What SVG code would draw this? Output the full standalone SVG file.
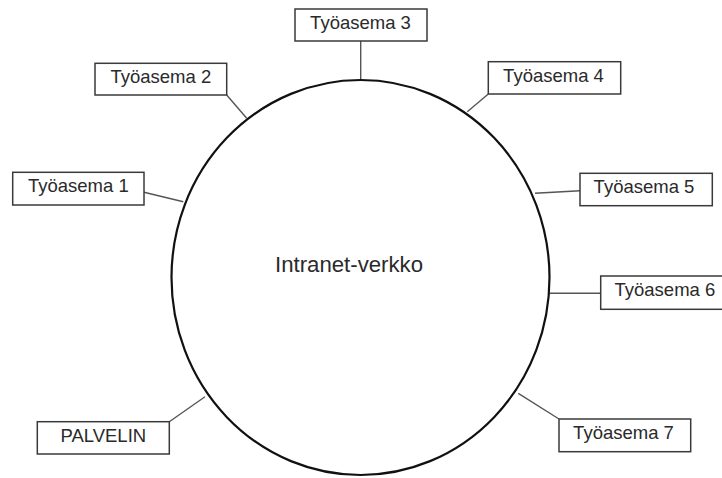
<svg xmlns="http://www.w3.org/2000/svg" width="722" height="478" viewBox="0 0 722 478">
<style>
.box{fill:#fff;stroke:#3a3a3a;stroke-width:1.5}
.lbl{font-family:"Liberation Sans",Arial,sans-serif;font-size:18.5px;fill:#2a2a2a}
.conn{stroke:#555;stroke-width:1.4;fill:none}
</style>
<rect width="722" height="478" fill="#fff"/>
<g id="connectors">
<line class="conn" x1="144" y1="192.3" x2="183.3" y2="201.7"/>
<line class="conn" x1="226.7" y1="95" x2="246.7" y2="118.3"/>
<line class="conn" x1="360.7" y1="41" x2="360.7" y2="80"/>
<line class="conn" x1="488.3" y1="94" x2="467.3" y2="111.7"/>
<line class="conn" x1="580" y1="190.7" x2="535" y2="193.3"/>
<line class="conn" x1="600.7" y1="293.3" x2="549.5" y2="293.3"/>
<line class="conn" x1="559" y1="419" x2="518.3" y2="393.3"/>
<line class="conn" x1="169.3" y1="421.7" x2="205" y2="396.7"/>
</g>
<g id="intranet">
<ellipse cx="360.5" cy="277.5" rx="189" ry="197.5" fill="none" stroke="#111" stroke-width="2.2"/>
<text x="275" y="272" font-family="Liberation Sans,Arial,sans-serif" font-size="22" fill="#2a2a2a" textLength="148" lengthAdjust="spacingAndGlyphs">Intranet-verkko</text>
</g>
<g id="ty1"><rect class="box" x="12.7" y="172.3" width="131.3" height="32.7"/><text class="lbl" x="78.3" y="192.3" text-anchor="middle">Työasema 1</text></g>
<g id="ty2"><rect class="box" x="95" y="63.3" width="131.7" height="31.7"/><text class="lbl" x="160.8" y="83.3" text-anchor="middle">Työasema 2</text></g>
<g id="ty3"><rect class="box" x="295" y="9" width="132" height="32"/><text class="lbl" x="360.5" y="29" text-anchor="middle">Työasema 3</text></g>
<g id="ty4"><rect class="box" x="488.3" y="61.7" width="132.4" height="32.3"/><text class="lbl" x="553.5" y="81.7" text-anchor="middle">Työasema 4</text></g>
<g id="ty5"><rect class="box" x="580" y="173.3" width="132.3" height="32.4"/><text class="lbl" x="644" y="193.3" text-anchor="middle">Työasema 5</text></g>
<g id="ty6"><rect class="box" x="600.7" y="276" width="132.3" height="33.3"/><text class="lbl" x="614.5" y="296">Työasema 6</text></g>
<g id="ty7"><rect class="box" x="559" y="419" width="131.7" height="32.7"/><text class="lbl" x="623.5" y="439" text-anchor="middle">Työasema 7</text></g>
<g id="palvelin"><rect class="box" x="37.3" y="421.7" width="132" height="32.3"/><text class="lbl" x="103.3" y="441.7" text-anchor="middle">PALVELIN</text></g>
</svg>
